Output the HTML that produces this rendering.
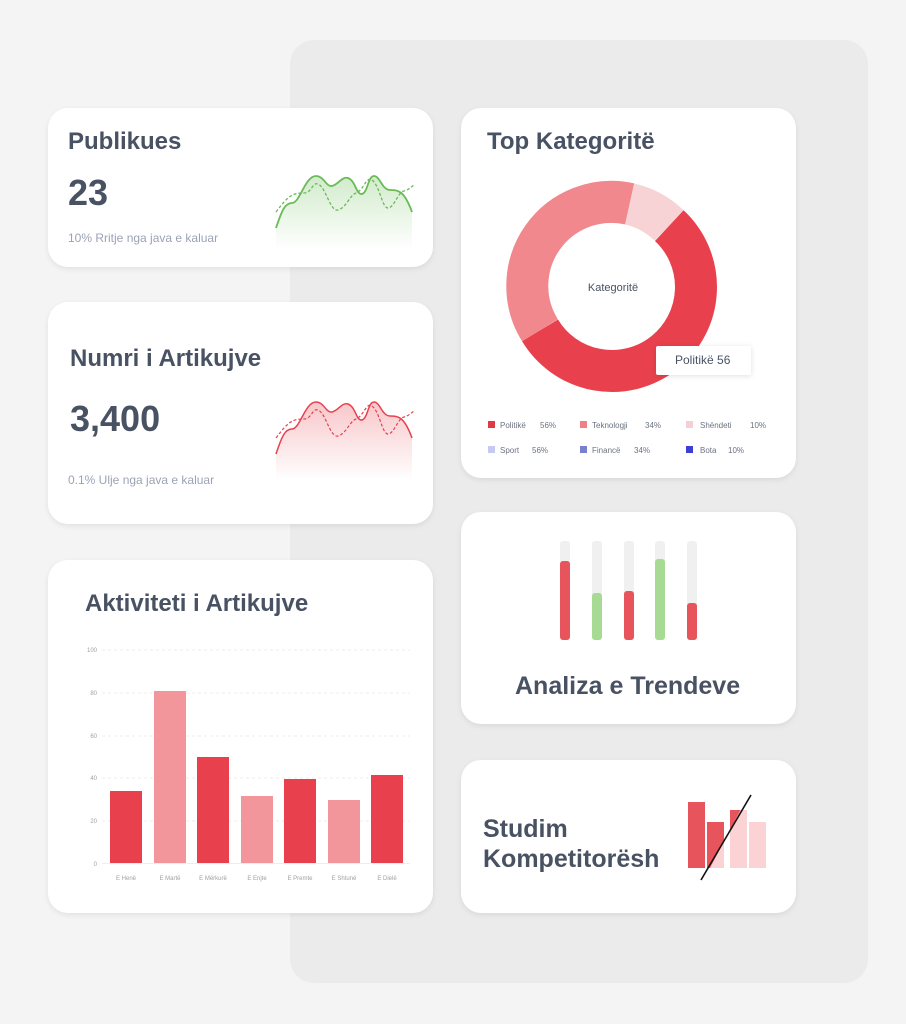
<!DOCTYPE html><html><head><meta charset="utf-8"><style>
*{margin:0;padding:0;box-sizing:border-box}
body{width:906px;height:1024px;background:#f4f4f4;position:relative;overflow:hidden;font-family:"Liberation Sans",sans-serif;color:#485263}
.panel{position:absolute;left:290px;top:40px;width:578px;height:943px;background:#ebebeb;border-radius:24px}
.card{position:absolute;background:#fff;border-radius:20px;box-shadow:0 2px 6px rgba(0,0,0,.08)}
.t{position:absolute;font-weight:bold;color:#485263}
.s{position:absolute;font-size:12px;color:#9aa3b5}
svg{position:absolute;left:0;top:0}
</style></head><body>
<div class="panel"></div>
<div class="card" style="left:48px;top:108px;width:385px;height:159px"></div>
<div class="card" style="left:48px;top:302px;width:385px;height:222px"></div>
<div class="card" style="left:48px;top:560px;width:385px;height:353px"></div>
<div class="card" style="left:461px;top:108px;width:335px;height:370px"></div>
<div class="card" style="left:461px;top:512px;width:335px;height:212px"></div>
<div class="card" style="left:461px;top:760px;width:335px;height:153px"></div>

<div class="t" style="left:68px;top:128px;font-size:24px">Publikues</div>
<div class="t" style="left:68px;top:172px;font-size:36px">23</div>
<div class="s" style="left:68px;top:231px">10% Rritje nga java e kaluar</div>
<div class="t" style="left:70px;top:345px;font-size:24px">Numri i Artikujve</div>
<div class="t" style="left:70px;top:398px;font-size:36px">3,400</div>
<div class="s" style="left:68px;top:473px">0.1% Ulje nga java e kaluar</div>
<div class="t" style="left:85px;top:590px;font-size:24px">Aktiviteti i Artikujve</div>
<div class="t" style="left:487px;top:128px;font-size:24px">Top Kategoritë</div>
<div class="t" style="left:515px;top:672px;font-size:25px">Analiza e Trendeve</div>
<div class="t" style="left:483px;top:814px;font-size:25px;line-height:30px">Studim<br>Kompetitorësh</div>

<svg width="906" height="1024" font-family="Liberation Sans, sans-serif">
<defs>
<linearGradient id="gg" x1="0" y1="0" x2="0" y2="1"><stop offset="0" stop-color="#7cc66a" stop-opacity=".35"/><stop offset="1" stop-color="#7cc66a" stop-opacity="0"/></linearGradient>
<linearGradient id="rg" x1="0" y1="0" x2="0" y2="1"><stop offset="0" stop-color="#e8414d" stop-opacity=".3"/><stop offset="1" stop-color="#e8414d" stop-opacity="0"/></linearGradient>
<clipPath id="lc"><polygon points="680,790 751,790 701,885 680,885"/></clipPath>
</defs>
<g id="sp">
<path d="M276,228 C282,210 285,203 292,203 C300,203 305,176 316,176 C324,176 326,187 332,186 C338,185 342,176 348,178 C356,181 356,195 362,194 C368,192 368,176 374,176 C380,176 382,190 390,190 C398,190 404,190 412,212 L412,250 L276,250Z" fill="url(#gg)"/>
<path d="M276,228 C282,210 285,203 292,203 C300,203 305,176 316,176 C324,176 326,187 332,186 C338,185 342,176 348,178 C356,181 356,195 362,194 C368,192 368,176 374,176 C380,176 382,190 390,190 C398,190 404,190 412,212" fill="none" stroke="#6abb57" stroke-width="1.8"/>
<path d="M276,212 C288,196 292,193 304,193 C312,193 312,182 318,184 C326,187 330,212 338,210 C346,208 350,195 356,193 C364,190 366,176 372,180 C380,186 382,208 388,208 C394,208 398,192 404,191 C408,190 410,188 414,185" fill="none" stroke="#6abb57" stroke-width="1.3" stroke-dasharray="3,2"/>
</g>
<g transform="translate(0,226)">
<path d="M276,228 C282,210 285,203 292,203 C300,203 305,176 316,176 C324,176 326,187 332,186 C338,185 342,176 348,178 C356,181 356,195 362,194 C368,192 368,176 374,176 C380,176 382,190 390,190 C398,190 404,190 412,212 L412,254 L276,254Z" fill="url(#rg)"/>
<path d="M276,228 C282,210 285,203 292,203 C300,203 305,176 316,176 C324,176 326,187 332,186 C338,185 342,176 348,178 C356,181 356,195 362,194 C368,192 368,176 374,176 C380,176 382,190 390,190 C398,190 404,190 412,212" fill="none" stroke="#e8414d" stroke-width="1.5"/>
<path d="M276,212 C288,196 292,193 304,193 C312,193 312,182 318,184 C326,187 330,212 338,210 C346,208 350,195 356,193 C364,190 366,176 372,180 C380,186 382,208 388,208 C394,208 398,192 404,191 C408,190 410,188 414,185" fill="none" stroke="#e8414d" stroke-width="1.2" stroke-dasharray="3,2"/>
</g>
<g stroke="#eee" stroke-dasharray="3,3" stroke-width="1">
<line x1="102" y1="650" x2="410" y2="650"/><line x1="102" y1="693" x2="410" y2="693"/><line x1="102" y1="736" x2="410" y2="736"/><line x1="102" y1="778" x2="410" y2="778"/><line x1="102" y1="821" x2="410" y2="821"/></g>
<line x1="102" y1="863.5" x2="410" y2="863.5" stroke="#eee"/>
<g font-size="6" fill="#a0a0a0" text-anchor="end"><text x="97" y="652">100</text><text x="97" y="695">80</text><text x="97" y="738">60</text><text x="97" y="780">40</text><text x="97" y="823">20</text><text x="97" y="866">0</text></g>
<rect x="110" y="791" width="32" height="72" fill="#e8414d"/>
<rect x="154" y="691" width="32" height="172" fill="#f2969b"/>
<rect x="197" y="757" width="32" height="106" fill="#e8414d"/>
<rect x="241" y="796" width="32" height="67" fill="#f2969b"/>
<rect x="284" y="779" width="32" height="84" fill="#e8414d"/>
<rect x="328" y="800" width="32" height="63" fill="#f2969b"/>
<rect x="371" y="775" width="32" height="88" fill="#e8414d"/>
<g font-size="6" fill="#a0a0a0" text-anchor="middle"><text x="126" y="880">E Henë</text><text x="170" y="880">E Martë</text><text x="213" y="880">E Mërkurë</text><text x="257" y="880">E Enjte</text><text x="300" y="880">E Premte</text><text x="344" y="880">E Shtunë</text><text x="387" y="880">E Dielë</text></g>
<g transform="translate(612,287)" stroke-width="42" fill="none">
<path d="M17.6,-83.1 A84,84 0 0 1 57.3,-61.4" stroke="#f8d3d5"/>
<path d="M57.3,-61.4 A84,84 0 1 1 -72.0,43.3" stroke="#e8414d"/>
<path d="M-72.0,43.3 A84,84 0 0 1 17.6,-83.1" stroke="#f0888e"/>
</g>
<text x="613" y="291" font-size="11" fill="#485263" text-anchor="middle">Kategoritë</text>
<rect x="656" y="346" width="95" height="29" fill="#fff" rx="2" style="filter:drop-shadow(0 1px 3px rgba(0,0,0,.12))"/>
<text x="675" y="364" font-size="12" fill="#485263">Politikë 56</text>
<g font-size="8" fill="#6b7280">
<rect x="488" y="421" width="7" height="7" fill="#e03a45"/><text x="500" y="428">Politikë</text><text x="540" y="428">56%</text>
<rect x="580" y="421" width="7" height="7" fill="#ee8086"/><text x="592" y="428">Teknologji</text><text x="645" y="428">34%</text>
<rect x="686" y="421" width="7" height="7" fill="#f5cfd3"/><text x="700" y="428">Shëndeti</text><text x="750" y="428">10%</text>
<rect x="488" y="446" width="7" height="7" fill="#c6c9f0"/><text x="500" y="453">Sport</text><text x="532" y="453">56%</text>
<rect x="580" y="446" width="7" height="7" fill="#7b7fd0"/><text x="592" y="453">Financë</text><text x="634" y="453">34%</text>
<rect x="686" y="446" width="7" height="7" fill="#3b3fd6"/><text x="700" y="453">Bota</text><text x="728" y="453">10%</text>
</g>
<g fill="#f0f0f0"><rect x="560" y="541" width="10" height="99" rx="3"/><rect x="592" y="541" width="10" height="99" rx="3"/><rect x="624" y="541" width="10" height="99" rx="3"/><rect x="655" y="541" width="10" height="99" rx="3"/><rect x="687" y="541" width="10" height="99" rx="3"/></g>
<rect x="560" y="561" width="10" height="79" rx="3" fill="#e8545c"/>
<rect x="592" y="593" width="10" height="47" rx="3" fill="#a7db94"/>
<rect x="624" y="591" width="10" height="49" rx="3" fill="#e8545c"/>
<rect x="655" y="559" width="10" height="81" rx="3" fill="#a7db94"/>
<rect x="687" y="603" width="10" height="37" rx="3" fill="#e8545c"/>
<g fill="#fbd3d5"><rect x="688" y="802" width="17" height="66"/><rect x="707" y="822" width="17" height="46"/><rect x="730" y="810" width="17" height="58"/><rect x="749" y="822" width="17" height="46"/></g>
<g fill="#e8545c" clip-path="url(#lc)"><rect x="688" y="802" width="17" height="66"/><rect x="707" y="822" width="17" height="46"/><rect x="730" y="810" width="17" height="58"/><rect x="749" y="822" width="17" height="46"/></g>
<line x1="701" y1="880" x2="751" y2="795" stroke="#111" stroke-width="1.6"/>
</svg>
</body></html>
